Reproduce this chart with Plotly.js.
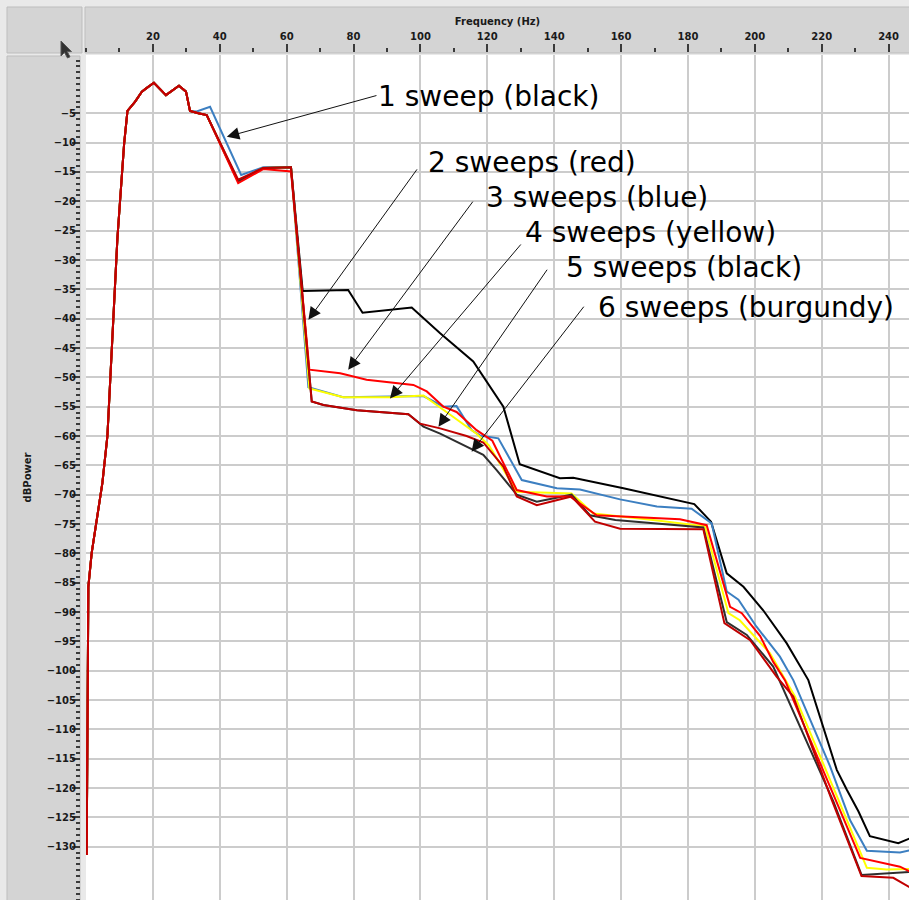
<!DOCTYPE html>
<html>
<head>
<meta charset="utf-8">
<script src="https://cdn.plot.ly/plotly-3.0.1.min.js"></script>
<style>html,body{margin:0;padding:0;background:#e9e9e9;}#chart{width:909px;height:900px;}</style>
</head>
<body>
<div id="chart"></div>
<script>
// ---- data (Frequency in Hz, power in dB) ----
const riseF  = [0.2, 0.7, 1.7, 3.2, 4.9, 6.4, 7.4, 9.4, 11.4, 12.4, 14.7, 16.7, 18.1, 20.3, 23.9, 27.8, 29.9, 31.1];
const riseDb = [-131.4, -85.7, -79.9, -74.3, -68.0, -60.0, -49.3, -26.2, -10.2, -4.6, -3.0, -1.3, -0.7, 0.2, -1.9, -0.3, -1.3, -4.6];

const sweep1F  = [33.6, 36.1, 45.5, 53.0, 61.3, 64.8, 78.4, 82.7, 97.4, 105.9, 115.8, 124.8, 129.7, 141.7, 145.7, 160.7, 181.9, 186.9, 191.6, 196.6, 202.5, 209.5, 216.0, 220.5, 224.5, 227.5, 231.0, 234.4, 242.9, 246.3];
const sweep1Db = [-5.0, -5.3, -16.6, -14.3, -14.2, -35.3, -35.1, -39.0, -38.1, -42.5, -47.3, -55.0, -64.8, -67.2, -67.1, -68.9, -71.6, -74.6, -83.4, -85.7, -89.7, -95.3, -101.6, -109.6, -116.9, -120.3, -124.0, -128.2, -129.4, -128.6];

const sweep2F  = [33.1, 37.1, 46.4, 53.0, 61.3, 66.5, 76.9, 100.9, 106.9, 110.8, 115.3, 117.8, 123.3, 130.3, 140.8, 147.7, 159.7, 170.7, 181.1, 187.1, 191.6, 195.1, 200.5, 207.5, 211.5, 216.5, 222.5, 228.5, 233.5, 243.4, 246.3];
const sweep2Db = [-4.7, -3.9, -15.5, -14.2, -14.2, -51.7, -53.4, -53.2, -55.0, -54.9, -59.0, -59.9, -60.4, -67.5, -68.9, -69.1, -70.8, -72.0, -72.4, -74.9, -86.5, -87.9, -92.5, -97.6, -101.6, -108.4, -116.3, -125.5, -130.7, -131.0, -130.6];

const sweep3F  = [33.6, 36.1, 45.5, 53.0, 61.3, 66.8, 76.0, 83.9, 97.9, 101.9, 106.9, 110.8, 116.8, 121.5, 128.8, 137.8, 144.7, 152.7, 177.6, 185.6, 192.6, 196.1, 201.6, 205.5, 209.0, 224.0, 231.5, 243.4, 246.3];
const sweep3Db = [-5.0, -5.3, -16.9, -14.5, -14.9, -48.7, -49.3, -50.4, -51.3, -52.4, -55.0, -55.9, -59.0, -60.8, -69.2, -70.3, -70.3, -73.5, -74.2, -75.2, -89.1, -90.2, -94.1, -98.5, -101.6, -122.0, -131.9, -133.4, -134.2];

const sweep4F  = [33.6, 36.1, 45.5, 53.0, 61.3, 66.8, 76.9, 90.9, 100.9, 106.9, 116.8, 120.5, 128.8, 145.2, 151.7, 169.6, 185.1, 192.1, 195.5, 204.5, 212.0, 225.0, 233.5, 239.4, 246.3];
const sweep4Db = [-5.0, -5.3, -16.6, -14.3, -14.2, -51.9, -53.4, -53.4, -53.1, -55.6, -59.6, -61.6, -69.5, -69.8, -73.2, -74.3, -75.4, -90.2, -91.4, -97.0, -104.4, -122.0, -133.6, -133.9, -133.8];

const sweep5F  = [33.6, 36.1, 45.5, 53.0, 61.3, 67.5, 71.0, 81.0, 96.4, 100.9, 105.9, 114.8, 118.8, 122.8, 128.8, 134.8, 145.2, 150.7, 158.3, 184.6, 191.6, 197.6, 205.5, 223.5, 231.9, 246.3];
const sweep5Db = [-5.0, -5.3, -16.6, -14.3, -14.2, -54.1, -54.7, -55.6, -56.3, -58.4, -59.6, -62.1, -63.2, -65.8, -70.0, -71.2, -70.0, -73.5, -74.3, -75.6, -91.7, -93.9, -99.3, -122.3, -134.8, -134.3];

const sweep6F  = [33.6, 36.1, 45.5, 53.0, 61.3, 67.5, 71.0, 81.0, 96.4, 99.9, 105.9, 113.8, 118.8, 124.8, 128.8, 134.8, 145.2, 152.2, 159.7, 184.6, 190.9, 198.6, 206.5, 211.5, 223.0, 231.9, 241.4, 246.3];
const sweep6Db = [-5.0, -5.3, -16.3, -14.3, -14.2, -54.1, -54.7, -55.6, -56.3, -57.9, -58.7, -60.0, -61.1, -65.2, -70.3, -71.8, -70.3, -74.6, -75.8, -75.9, -91.9, -94.8, -101.0, -104.4, -122.0, -135.0, -135.3, -136.9];

const xTickVals = [20, 40, 60, 80, 100, 120, 140, 160, 180, 200, 220, 240];
const yTickVals = [-5, -10, -15, -20, -25, -30, -35, -40, -45, -50, -55, -60, -65, -70, -75, -80, -85, -90, -95, -100, -105, -110, -115, -120, -125, -130];

const labelTexts = ['1 sweep (black)', '2 sweeps (red)', '3 sweeps (blue)', '4 sweeps (yellow)', '5 sweeps (black)', '6 sweeps (burgundy)'];
const labelF  = [87.1, 102.1, 119.4, 131.1, 143.3, 152.9];
const labelDb = [-2.1, -13.4, -19.3, -25.3, -31.3, -38.1];
const arrowTipF  = [42.1, 66.5, 78.4, 90.9, 105.4, 115.3];
const arrowTipDb = [-9.0, -40.2, -48.7, -53.6, -58.4, -62.7];
const arrowTailF  = [87.3, 99.3, 116.0, 130.4, 138.2, 149.2];
const arrowTailDb = [-1.9, -14.3, -19.8, -27.1, -31.4, -37.7];

// ---- build traces ----
function series(f, db, color, name) {
  return {
    x: riseF.concat(f), y: riseDb.concat(db),
    type: 'scatter', mode: 'lines', name: name,
    line: {color: color, width: 2}, hoverinfo: 'skip'
  };
}
const traces = [
  series(sweep1F, sweep1Db, '#000000', '1 sweep'),
  series(sweep2F, sweep2Db, '#3c7fc1', '2 sweeps'),
  series(sweep4F, sweep4Db, '#ffff00', '4 sweeps'),
  series(sweep5F, sweep5Db, '#2e2e2e', '5 sweeps'),
  series(sweep3F, sweep3Db, '#ff0000', '3 sweeps'),
  series(sweep6F, sweep6Db, '#c00000', '6 sweeps')
];

const annotations = [];
for (let i = 0; i < labelTexts.length; i++) {
  annotations.push({
    x: arrowTipF[i], y: arrowTipDb[i], xref: 'x', yref: 'y',
    ax: arrowTailF[i], ay: arrowTailDb[i], axref: 'x', ayref: 'y',
    text: '', showarrow: true, arrowhead: 2, arrowsize: 2.5, arrowwidth: 1,
    arrowcolor: '#111111', standoff: 0, startstandoff: 0
  });
  annotations.push({
    x: labelF[i], y: labelDb[i], xref: 'x', yref: 'y',
    text: labelTexts[i], showarrow: false, xanchor: 'left', yanchor: 'middle',
    borderpad: 0,
    font: {family: '"DejaVu Sans", sans-serif', size: 28, color: '#000000'}
  });
}

// panel frames in paper coordinates (plot area: x 80..909, y 52..900 px)
const PW = 829, PH = 848;
function px(x) { return (x - 80) / PW; }
function py(y) { return (900 - y) / PH; }
const panelFill = '#d4d4d4', panelLine = '#bdbdbd';
const shapes = [
  {type: 'rect', xref: 'paper', yref: 'paper', x0: px(7), x1: px(82), y0: py(53), y1: py(7), fillcolor: panelFill, line: {color: panelLine, width: 1}, layer: 'below'},
  {type: 'rect', xref: 'paper', yref: 'paper', x0: px(85), x1: px(912), y0: py(53), y1: py(7), fillcolor: panelFill, line: {color: panelLine, width: 1}, layer: 'below'},
  {type: 'rect', xref: 'paper', yref: 'paper', x0: px(7), x1: px(80), y0: py(905), y1: py(56), fillcolor: panelFill, line: {color: panelLine, width: 1}, layer: 'below'},
  {type: 'path', xref: 'paper', yref: 'paper', xsizemode: 'pixel', ysizemode: 'pixel',
   xanchor: px(61), yanchor: py(41),
   path: 'M0,0 L0,-15 L3.5,-11.5 L6.5,-17 L9,-15.8 L6.2,-10.6 L10.5,-10.6 Z',
   fillcolor: '#333333', line: {color: '#555555', width: 1}, layer: 'above'}
];

const tickFont = {family: '"DejaVu Sans", sans-serif', size: 10, color: '#1a1a1a', weight: 'bold'};

const layout = {
  width: 909, height: 900,
  margin: {l: 80, r: 0, t: 52, b: 0, pad: 0},
  paper_bgcolor: '#e9e9e9', plot_bgcolor: '#ffffff',
  showlegend: false,
  xaxis: {
    domain: [6 / PW, 1], range: [0, 246.1], side: 'top', anchor: 'free', position: 1,
    tickmode: 'array', tickvals: xTickVals,
    ticks: 'outside', ticklen: 8, tickwidth: 2, tickcolor: '#3a3a3a',
    showgrid: true, gridcolor: '#cccccc', gridwidth: 2,
    zeroline: false, showline: false, tickfont: tickFont,
    minor: {tick0: 0, dtick: 10, ticklen: 4, tickwidth: 2, tickcolor: '#3a3a3a', showgrid: false},
    title: {text: 'Frequency (Hz)', font: {family: '"DejaVu Sans", sans-serif', size: 10, color: '#1a1a1a', weight: 'bold'}, standoff: 2},
    fixedrange: true
  },
  yaxis: {
    domain: [0, 845 / PH], range: [-139.08, 4.94], anchor: 'free', position: 0,
    tickmode: 'array', tickvals: yTickVals,
    ticks: 'outside', ticklen: 8, tickwidth: 2, tickcolor: '#3a3a3a',
    ticklabelstandoff: -6,
    showgrid: true, gridcolor: '#cccccc', gridwidth: 2,
    zeroline: false, showline: false, tickfont: tickFont,
    minor: {tick0: 0, dtick: 1, ticklen: 4, tickwidth: 2, tickcolor: '#3a3a3a', showgrid: false},
    title: {text: 'dBPower', font: {family: '"DejaVu Sans", sans-serif', size: 10, color: '#1a1a1a', weight: 'bold'}, standoff: 12},
    fixedrange: true
  },
  shapes: shapes,
  annotations: annotations
};

Plotly.newPlot('chart', traces, layout, {displayModeBar: false, staticPlot: true});
</script>
</body>
</html>
